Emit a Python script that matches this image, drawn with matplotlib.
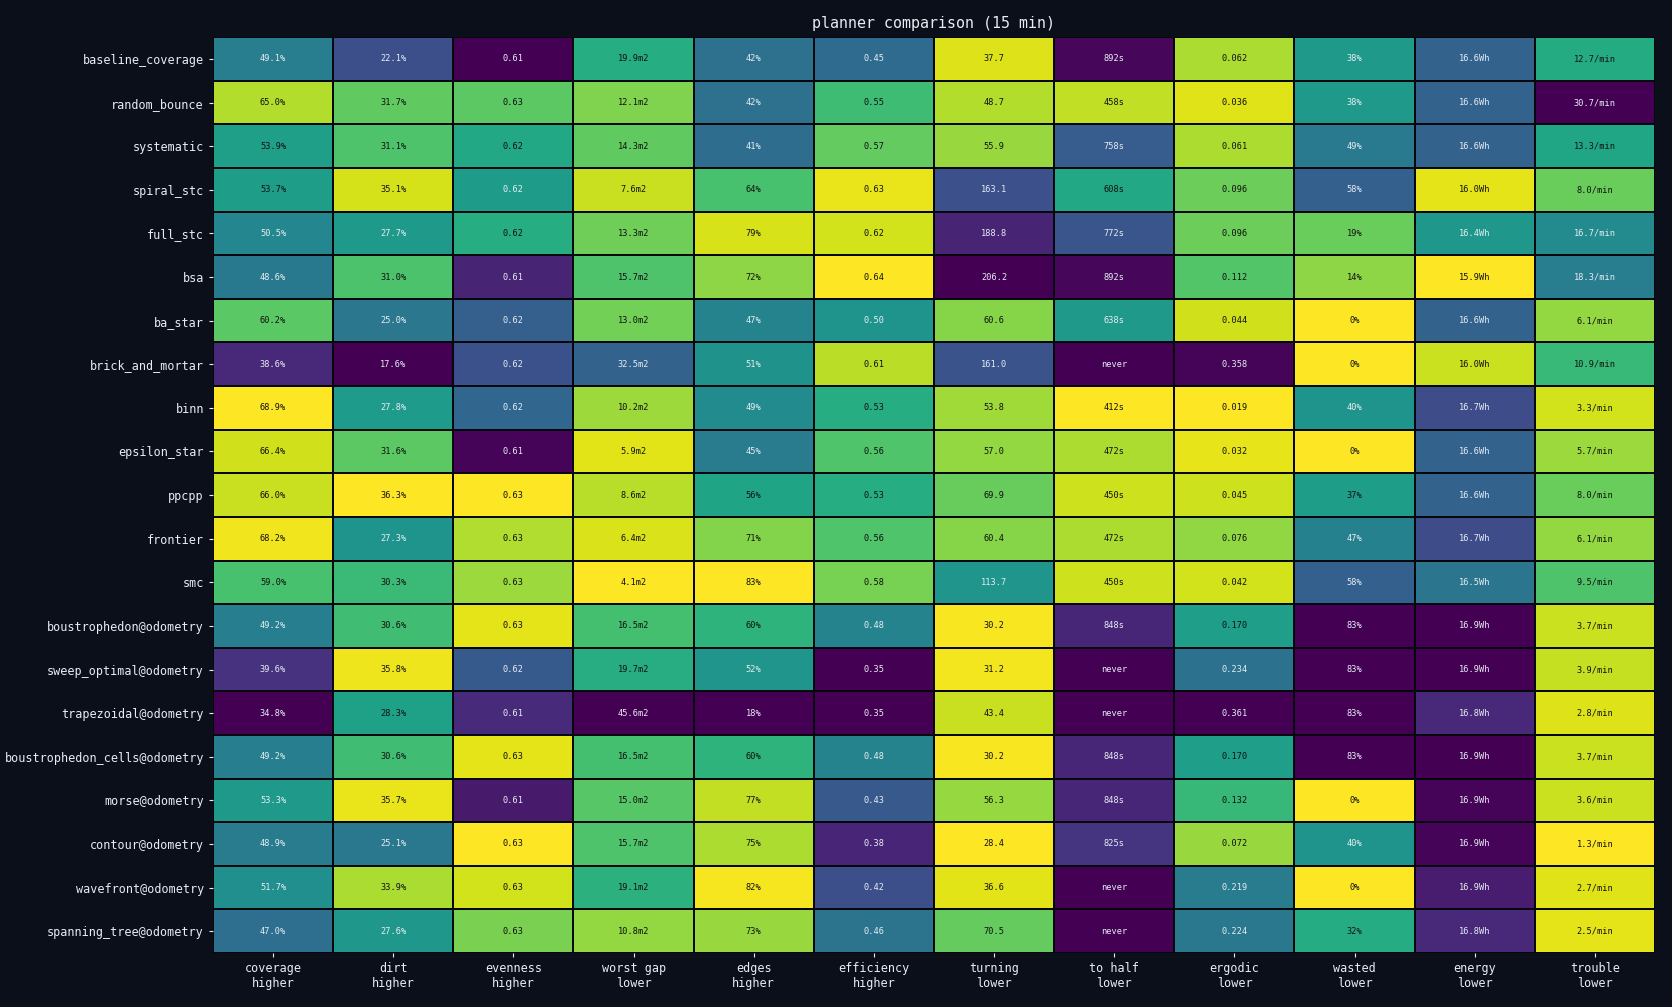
## planner comparison heatmap (per-column viridis, lower-is-better columns flipped)
import numpy as np
import matplotlib
matplotlib.use("Agg")
import matplotlib.pyplot as plt

BG = "#0b0f19"
FG = "#e6edf3"

planners = ["baseline_coverage", "random_bounce", "systematic", "spiral_stc", "full_stc",
            "bsa", "ba_star", "brick_and_mortar", "binn", "epsilon_star", "ppcpp",
            "frontier", "smc", "boustrophedon@odometry", "sweep_optimal@odometry",
            "trapezoidal@odometry", "boustrophedon_cells@odometry", "morse@odometry",
            "contour@odometry", "wavefront@odometry", "spanning_tree@odometry"]

metrics = ["coverage", "dirt", "evenness", "worst gap", "edges", "efficiency",
           "turning", "to half", "ergodic", "wasted", "energy", "trouble"]
better = ["higher", "higher", "higher", "lower", "higher", "higher",
          "lower", "lower", "lower", "lower", "lower", "lower"]

coverage = [49.1, 65.0, 53.9, 53.7, 50.5, 48.6, 60.2, 38.6, 68.9, 66.4, 66.0,
            68.2, 59.0, 49.2, 39.6, 34.8, 49.2, 53.3, 48.9, 51.7, 47.0]
dirt = [22.1, 31.7, 31.1, 35.1, 27.7, 31.0, 25.0, 17.6, 27.8, 31.6, 36.3,
        27.3, 30.3, 30.6, 35.8, 28.3, 30.6, 35.7, 25.1, 33.9, 27.6]
evenness = [0.6114, 0.6264, 0.6234, 0.6224, 0.6238, 0.6134, 0.6174, 0.6164, 0.6180, 0.6116, 0.6314,
            0.6290, 0.6284, 0.6306, 0.6170, 0.6138, 0.6306, 0.6128, 0.6314, 0.6300, 0.6274]
worst_gap = [19.9, 12.1, 14.3, 7.6, 13.3, 15.7, 13.0, 32.5, 10.2, 5.9, 8.6,
             6.4, 4.1, 16.5, 19.7, 45.6, 16.5, 15.0, 15.7, 19.1, 10.8]
edges = [42, 42, 41, 64, 79, 72, 47, 51, 49, 45, 56,
         71, 83, 60, 52, 18, 60, 77, 75, 82, 73]
efficiency = [0.45, 0.55, 0.57, 0.63, 0.62, 0.64, 0.50, 0.61, 0.53, 0.56, 0.53,
              0.56, 0.58, 0.48, 0.35, 0.35, 0.48, 0.43, 0.38, 0.42, 0.46]
turning = [37.7, 48.7, 55.9, 163.1, 188.8, 206.2, 60.6, 161.0, 53.8, 57.0, 69.9,
           60.4, 113.7, 30.2, 31.2, 43.4, 30.2, 56.3, 28.4, 36.6, 70.5]
to_half = [892, 458, 758, 608, 772, 892, 638, None, 412, 472, 450,
           472, 450, 848, None, None, 848, 848, 825, None, None]
ergodic = [0.062, 0.036, 0.061, 0.096, 0.096, 0.112, 0.044, 0.358, 0.019, 0.032, 0.045,
           0.076, 0.042, 0.170, 0.234, 0.361, 0.170, 0.132, 0.072, 0.219, 0.224]
wasted = [38, 38, 49, 58, 19, 14, 0, 0, 40, 0, 37,
          47, 58, 83, 83, 83, 83, 0, 40, 0, 32]
energy = [16.62, 16.62, 16.62, 15.97, 16.40, 15.93, 16.62, 16.01, 16.70, 16.62, 16.62,
          16.70, 16.54, 16.93, 16.93, 16.82, 16.93, 16.92, 16.92, 16.85, 16.82]
trouble = [12.7, 30.7, 13.3, 8.0, 16.7, 18.3, 6.1, 10.9, 3.3, 5.7, 8.0,
           6.1, 9.5, 3.7, 3.9, 2.8, 3.7, 3.6, 1.3, 2.7, 2.5]

HORIZON = 900  # 15 min run, "never" counts as the full horizon

columns = [coverage, dirt, evenness, worst_gap, edges, efficiency,
           turning, to_half, ergodic, wasted, energy, trouble]
formats = ["{:.1f}%", "{:.1f}%", "{:.2f}", "{:.1f}m2", "{:.0f}%", "{:.2f}",
           "{:.1f}", "{:.0f}s", "{:.3f}", "{:.0f}%", "{:.1f}Wh", "{:.1f}/min"]

n_rows, n_cols = len(planners), len(metrics)
score = np.zeros((n_rows, n_cols))
labels = [[""] * n_cols for _ in range(n_rows)]
for j, col in enumerate(columns):
    vals = np.array([HORIZON if v is None else v for v in col], dtype=float)
    t = (vals - vals.min()) / (vals.max() - vals.min())
    if better[j] == "lower":
        t = 1 - t
    score[:, j] = t
    for i, v in enumerate(col):
        labels[i][j] = "never" if v is None else formats[j].format(v)

plt.rcParams["font.family"] = "DejaVu Sans Mono"
fig = plt.figure(figsize=(16.72, 10.07), dpi=100, facecolor=BG)
ax = fig.add_axes([0.1274, 0.0536, 0.8624, 0.9095])
ax.set_facecolor(BG)

ax.pcolormesh(score, cmap="viridis", vmin=0, vmax=1, edgecolors="#06080d", linewidth=1.4)
ax.set_xlim(0, n_cols)
ax.set_ylim(n_rows, 0)

for i in range(n_rows):
    for j in range(n_cols):
        c = "#111111" if score[i, j] >= 0.55 else FG
        ax.text(j + 0.5, i + 0.5, labels[i][j], ha="center", va="center",
                fontsize=6.2, color=c)

ax.set_xticks(np.arange(n_cols) + 0.5)
ax.set_xticklabels([f"{m}\n{b}" for m, b in zip(metrics, better)], fontsize=8.5, color=FG)
ax.set_yticks(np.arange(n_rows) + 0.5)
ax.set_yticklabels(planners, fontsize=8.5, color=FG)
ax.tick_params(colors=FG, length=3, width=0.8)
for s in ax.spines.values():
    s.set_visible(False)

fig.suptitle("planner comparison (15 min)", color=FG, fontsize=10.8, x=0.5585, y=0.984)

fig.savefig("out.png", dpi=100, facecolor=BG)
